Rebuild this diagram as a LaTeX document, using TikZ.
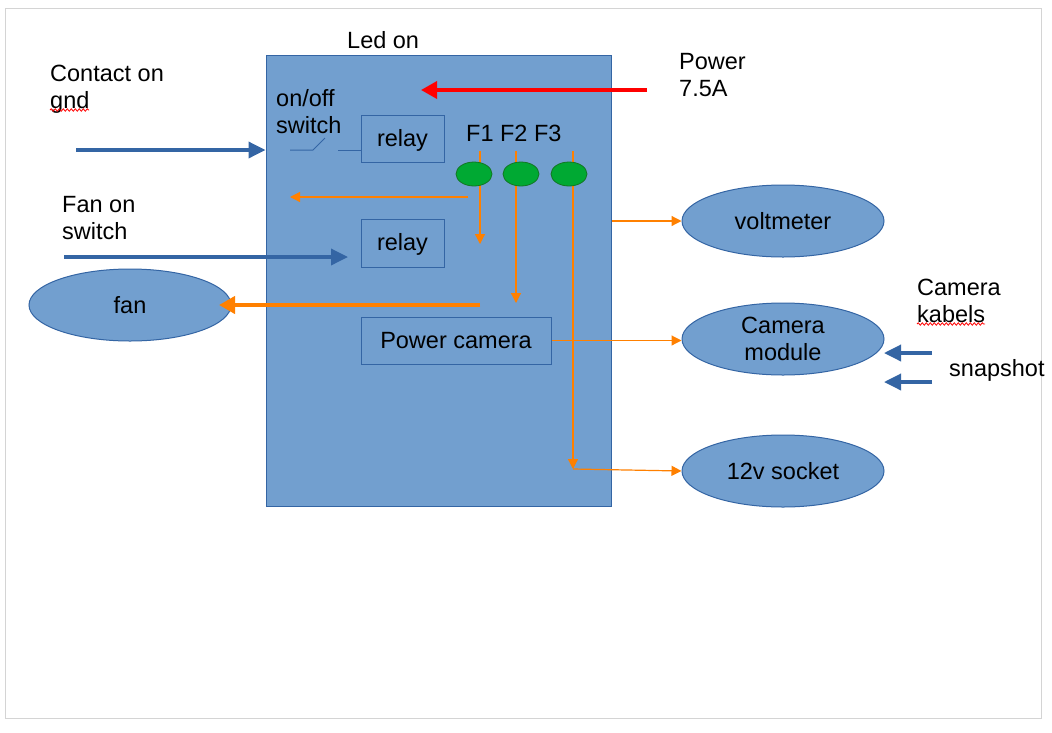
\documentclass[tikz,border=0pt]{standalone}
\usepackage{fontspec}
\setmainfont{Liberation Sans}
\usetikzlibrary{arrows.meta,shapes.geometric,decorations.pathmorphing}
\definecolor{boxblue}{HTML}{729FCF}
\definecolor{edgeblue}{HTML}{3465A4}
\definecolor{lorange}{HTML}{FF8000}
\definecolor{fgreen}{HTML}{00A933}
\definecolor{fgreenedge}{HTML}{127622}
\definecolor{pageline}{HTML}{D4D4D4}
\begin{document}
\begin{tikzpicture}[x=1pt,y=-1pt,
  font=\fontsize{23.5}{27}\selectfont,
  lbl/.style={inner sep=0, align=left, anchor=north west},
  box/.style={draw=edgeblue, fill=boxblue, line width=1pt},
  rbox/.style={box, inner sep=0, text height=18.5pt, text depth=3.5pt},
  oval/.style={ellipse, box, minimum width=202, minimum height=72, inner sep=0, align=center},
  fuse/.style={ellipse, draw=fgreenedge, fill=fgreen, line width=0.8pt, minimum width=36, minimum height=24, inner sep=0},
  thinarr/.style={draw=lorange, line width=1.2pt, -{Triangle[length=10pt,width=10pt]}},
  fatarr/.style={draw=lorange, line width=4.3pt, -{Triangle[length=16pt,width=17pt]}},
  bluearr/.style={draw=edgeblue, line width=3.5pt, -{Triangle[length=17pt,width=16pt]}},
  redarr/.style={draw=red, line width=3.5pt, -{Triangle[length=16pt,width=17pt]}},
  wire/.style={draw=edgeblue, line width=1pt},
  squiggle/.style={draw=red, line width=0.8pt, decorate, decoration={snake, amplitude=1.2pt, segment length=4pt}}
]
\useasboundingbox (0,0) rectangle (1052,732);
\fill[white] (0,0) rectangle (1052,732);
\draw[pageline, line width=1pt] (5,8) rectangle (1041,718);

% main block
\node[box, inner sep=0, minimum width=345, minimum height=451] (main) at (438.5,280.5) {};
\node[rbox, minimum width=83, minimum height=47] (relayA) at (402.5,138.5) {relay};
\node[rbox, minimum width=83, minimum height=48] (relayB) at (402.5,243) {relay};
\node[rbox, minimum width=190, minimum height=47] (powercam) at (456,340.5) {Power camera};

% outer ellipses
\node[oval] (fan) at (130,305) {fan};
\node[oval] (volt) at (783,221) {voltmeter};
\node[oval] (cammod) at (783,339) {Camera\\module};
\node[oval] (sock) at (783,471) {12v socket};

% texts
\node[lbl] (ledon) at (347,31) {Led on};
\node[lbl] (power) at (679,53) {Power\\7.5A};
\node[lbl] (contact) at (50,65) {Contact on\\gnd};
\node[lbl] (onoff) at (276,89) {on/off\\switch};
\node[lbl] (fanon) at (62,196) {Fan on\\switch};
\node[lbl] (camkab) at (917,279) {Camera\\kabels};
\node[inner sep=0, anchor=west] (snap) at (949,370) {snapshot};
\node[lbl] (flbl) at (466,125) {F1 F2 F3};

% spell-check marks
\draw[squiggle] (50,110) -- (89,110);
\draw[squiggle] (917,324) -- (985,324);

% coordinates
\coordinate (redstart) at (647,90);
\coordinate (redend) at (421,90);
\coordinate (contactstart) at (76,150);
\coordinate (fanonstart) at (64,257);
\coordinate (fanonend) at (348,257);
\coordinate (sw1) at (290,150);
\coordinate (sw2) at (313,150);
\coordinate (sw3) at (325,138);
\coordinate (sw4) at (338,150);
\coordinate (f1top) at (480,151);
\coordinate (f1end) at (480,244);
\coordinate (f2top) at (516,151);
\coordinate (f2end) at (516,303);
\coordinate (f3top) at (573,151);
\coordinate (f3end) at (573,469);
\coordinate (leftstart) at (468,197);
\coordinate (leftend) at (290,197);
\coordinate (fanarrstart) at (480,305);
\coordinate (fanarrend) at (219,305);
\coordinate (snapA) at (932,353);
\coordinate (snapAend) at (884,353);
\coordinate (snapB) at (932,382);
\coordinate (snapBend) at (884,382);

% switch symbol
\draw[wire] (sw1) -- (sw2) -- (sw3);
\draw[wire] (sw4) -- (sw4 -| relayA.west);

% orange wiring inside
\draw[thinarr] (f1top) -- (f1end);
\draw[thinarr] (f2top) -- (f2end);
\draw[thinarr] (f3top) -- (f3end);
\draw[thinarr] (leftstart) -- (leftend);
\draw[thinarr] (f3end) -- (sock.west);
\draw[thinarr] (main.east |- volt.west) -- (volt.west);
\draw[thinarr] (powercam.east) -- (powercam.east -| cammod.west);
\draw[fatarr] (fanarrstart) -- (fanarrend);

% fuses
\node[fuse] (fuse1) at (474,174) {};
\node[fuse] (fuse2) at (521,174) {};
\node[fuse] (fuse3) at (569,174) {};

% inputs
\draw[redarr] (redstart) -- (redend);
\draw[bluearr] (contactstart) -- (contactstart -| main.west);
\draw[bluearr] (fanonstart) -- (fanonend);
\draw[bluearr] (snapA) -- (snapAend);
\draw[bluearr] (snapB) -- (snapBend);
\end{tikzpicture}
\end{document}
